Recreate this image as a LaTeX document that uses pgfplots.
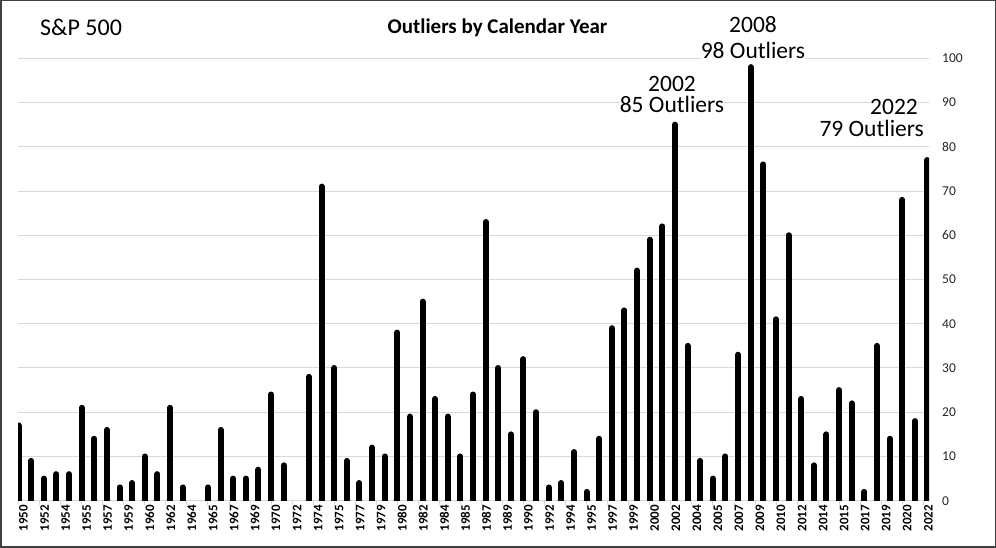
\documentclass[border=0pt]{standalone}
\usepackage{pgfplots}
\usepackage{pgfplotstable}
\pgfplotsset{compat=1.18}
\usepackage{fontspec}
\setmainfont{Carlito}
\definecolor{gridgray}{HTML}{D9D9D9}
\definecolor{framegray}{HTML}{404040}

\pgfplotstableread{
year value
1950 17
1951 9
1952 5
1953 6
1954 6
1955 21
1956 14
1957 16
1958 3
1959 4
1960 10
1961 6
1962 21
1963 3
1964 0
1965 3
1966 16
1967 5
1968 5
1969 7
1970 24
1971 8
1972 0
1973 28
1974 71
1975 30
1976 9
1977 4
1978 12
1979 10
1980 38
1981 19
1982 45
1983 23
1984 19
1985 10
1986 24
1987 63
1988 30
1989 15
1990 32
1991 20
1992 3
1993 4
1994 11
1995 2
1996 14
1997 39
1998 43
1999 52
2000 59
2001 62
2002 85
2003 35
2004 9
2005 5
2006 10
2007 33
2008 98
2009 76
2010 41
2011 60
2012 23
2013 8
2014 15
2015 25
2016 22
2017 2
2018 35
2019 14
2020 68
2021 18
2022 77
}\outliers

\begin{document}
\begin{tikzpicture}
\begin{axis}[
  at={(18pt,47.3pt)}, anchor=south west,
  scale only axis, width=911pt, height=442.4pt,
  xmin=1949.96, xmax=2022.12, ymin=0, ymax=100,
  axis x line*=bottom, axis y line*=right,
  x axis line style={draw=gridgray, line width=1pt},
  y axis line style={draw=none},
  ymajorgrids, grid style={gridgray, line width=1pt},
  ytick={0,10,...,100},
  xtick={1950,1951.6667,1953.3333,1955,1956.6667,1958.3333,1960,1961.6667,1963.3333,1965,1966.6667,1968.3333,1970,1971.6667,1973.3333,1975,1976.6667,1978.3333,1980,1981.6667,1983.3333,1985,1986.6667,1988.3333,1990,1991.6667,1993.3333,1995,1996.6667,1998.3333,2000,2001.6667,2003.3333,2005,2006.6667,2008.3333,2010,2011.6667,2013.3333,2015,2016.6667,2018.3333,2020,2021.6667},
  xticklabels={1950,1952,1954,1955,1957,1959,1960,1962,1964,1965,1967,1969,1970,1972,1974,1975,1977,1979,1980,1982,1984,1985,1987,1989,1990,1992,1994,1995,1997,1999,2000,2002,2004,2005,2007,2009,2010,2012,2014,2015,2017,2019,2020,2022},
  tick align=outside, major tick length=4pt,
  xtick style={gridgray, line width=0.8pt},
  ytick style={draw=none},
  xticklabel style={rotate=90, anchor=east, inner sep=0pt, yshift=-5pt,
    font=\fontsize{13}{13}\selectfont\bfseries, text=black},
  yticklabel style={anchor=west, inner sep=0pt, xshift=9pt,
    font=\fontsize{13.5}{13.5}\selectfont, text=black!85},
  /pgf/number format/assume math mode=true,
]
\addplot[ycomb, black, line width=6pt, line cap=round, restrict y to domain=0.5:200]
  table[x=year, y=value] {\outliers};
\end{axis}

\node[anchor=base, font=\fontsize{21}{21}\selectfont\bfseries] at (497.5pt,514pt) {Outliers by Calendar Year};
\node[anchor=base west, inner sep=0pt, font=\fontsize{24}{24}\selectfont] at (40pt,512pt) {S\&P 500};

\begin{scope}[every node/.style={anchor=base, fill=white, inner sep=0pt, font=\fontsize{23.5}{23.5}\selectfont}]
\node at (753pt,515.5pt) {2008};
\node at (753pt,489.5pt) {98 Outliers};
\node at (672pt,456.5pt) {2002};
\node at (672pt,435pt) {85 Outliers};
\node at (894pt,433.8pt) {2022};
\node at (871.7pt,411.5pt) {79 Outliers};
\end{scope}

\draw[framegray, line width=1.5pt] (0.75pt,0.75pt) rectangle (995.25pt,547.25pt);
\pgfresetboundingbox
\useasboundingbox (0,0) rectangle (996pt,548pt);
\end{tikzpicture}
\end{document}
